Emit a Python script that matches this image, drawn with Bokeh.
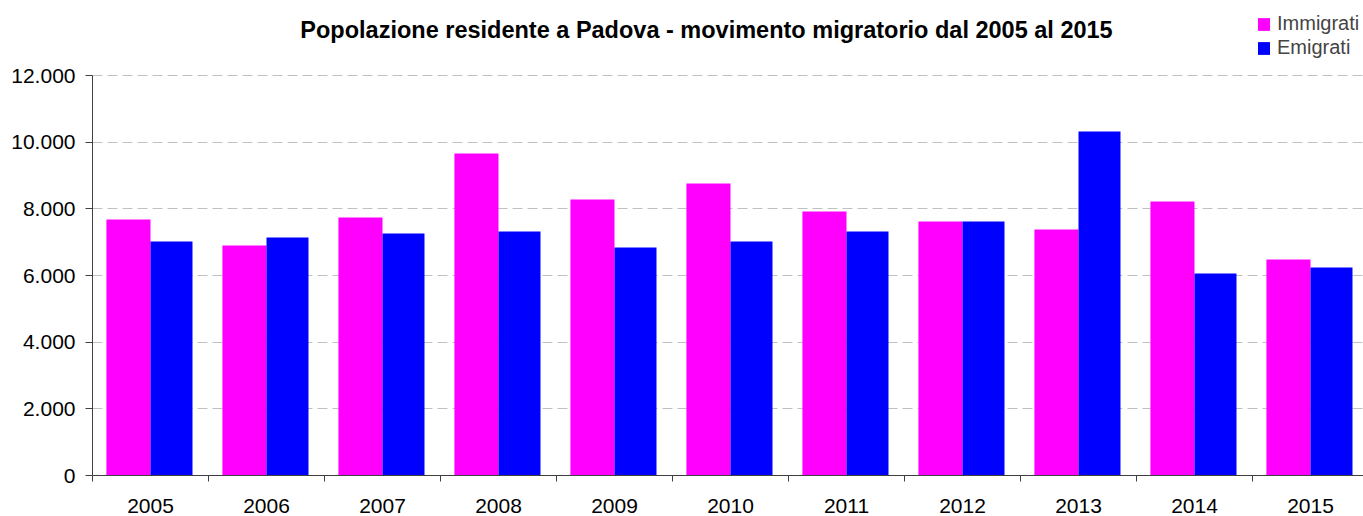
from bokeh.plotting import figure
from bokeh.models import (Range1d, FixedTicker, Label, ColumnDataSource,
                          Legend, LegendItem)
from bokeh.embed import file_html
from bokeh.resources import INLINE

# ---- data ----
years = [2005, 2006, 2007, 2008, 2009, 2010, 2011, 2012, 2013, 2014, 2015]
year_labels = ["2005", "2006", "2007", "2008", "2009", "2010", "2011", "2012", "2013", "2014", "2015"]
immigrati = [7680, 6900, 7740, 9660, 8280, 8760, 7920, 7620, 7380, 8220, 6480]
emigrati = [7020, 7140, 7260, 7320, 6840, 7020, 7320, 7620, 10320, 6060, 6240]
ytick_values = [0, 2000, 4000, 6000, 8000, 10000, 12000]
ytick_labels = ["0", "2.000", "4.000", "6.000", "8.000", "10.000", "12.000"]
title_text = "Popolazione residente a Padova - movimento migratorio dal 2005 al 2015"
series_names = ["Immigrati", "Emigrati"]

FONT = "Liberation Sans"
MAG = "#FF00FF"
BLU = "#0000FF"
AX = "#404040"

src = ColumnDataSource(dict(
    year=years,
    imm=immigrati,
    emi=emigrati,
    x_imm=[y - 0.19 for y in years],
    x_emi=[y + 0.181 for y in years],
))

# frame spans the full height above the x axis; the value axis is bounded to 0..12000
Y_MAX = ytick_values[-1]
FRAME_H = 475
PLOT_H = 400
p = figure(width=1363, height=516, output_backend="svg", toolbar_location=None,
           x_range=Range1d(2004.5, 2004.5 + 1271 / 116),
           y_range=Range1d(0, Y_MAX * FRAME_H / PLOT_H),
           min_border_left=92, min_border_right=0, min_border_top=0, min_border_bottom=41)
p.outline_line_color = None
p.background_fill_color = "white"
p.border_fill_color = "white"

r1 = p.vbar(x="x_imm", top="imm", width=0.38, source=src, fill_color=MAG, line_color=None)
r2 = p.vbar(x="x_emi", top="emi", width=0.362, source=src, fill_color=BLU, line_color=None)

# x axis: labels at the centres, tick marks at category boundaries
boundaries = [y - 0.5 for y in years] + [years[-1] + 0.5]
p.xaxis.ticker = FixedTicker(ticks=years, minor_ticks=boundaries)
p.xaxis.major_label_overrides = {y: l for y, l in zip(years, year_labels)}
p.xaxis.major_tick_out = 0
p.xaxis.major_tick_in = 0
p.xaxis.minor_tick_out = 6
p.xaxis.minor_tick_in = 0
p.xaxis.axis_line_color = AX
p.xaxis.minor_tick_line_color = AX
p.xaxis.major_label_standoff = 17
p.xaxis.major_label_text_font = FONT
p.xaxis.major_label_text_font_size = "21px"
p.xaxis.major_label_text_color = "#000000"
p.xgrid.visible = False

# y axis
p.yaxis.ticker = FixedTicker(ticks=ytick_values)
p.yaxis.bounds = (0, Y_MAX)
p.yaxis.major_label_overrides = {v: l for v, l in zip(ytick_values, ytick_labels)}
p.yaxis.major_label_text_font = FONT
p.yaxis.major_label_text_font_size = "21px"
p.yaxis.major_label_text_color = "#000000"
p.yaxis.major_tick_out = 7
p.yaxis.major_tick_in = 0
p.yaxis.minor_tick_line_color = None
p.yaxis.major_label_standoff = 10
p.yaxis.axis_line_color = AX
p.yaxis.major_tick_line_color = AX

p.ygrid.grid_line_color = "#C0C0C0"
p.ygrid.grid_line_dash = "10 5"
p.ygrid.grid_line_width = 1

# title
p.add_layout(Label(x=614, y=446, x_units="screen", y_units="screen", text=title_text,
                   text_font=FONT, text_font_style="bold", text_font_size="23.5px",
                   text_align="center", text_baseline="alphabetic", text_color="#000000"))

# legend
legend = Legend(items=[LegendItem(label=series_names[0], renderers=[r1]),
                       LegendItem(label=series_names[1], renderers=[r2])],
                location=(1164, 416), orientation="vertical",
                glyph_width=15, glyph_height=16, label_height=16, label_width=60,
                spacing=1, padding=0, margin=0, label_standoff=6,
                label_text_font=FONT, label_text_font_size="20px",
                border_line_alpha=0, background_fill_alpha=0)
p.add_layout(legend)

open("out.html", "w").write(file_html(p, INLINE))
